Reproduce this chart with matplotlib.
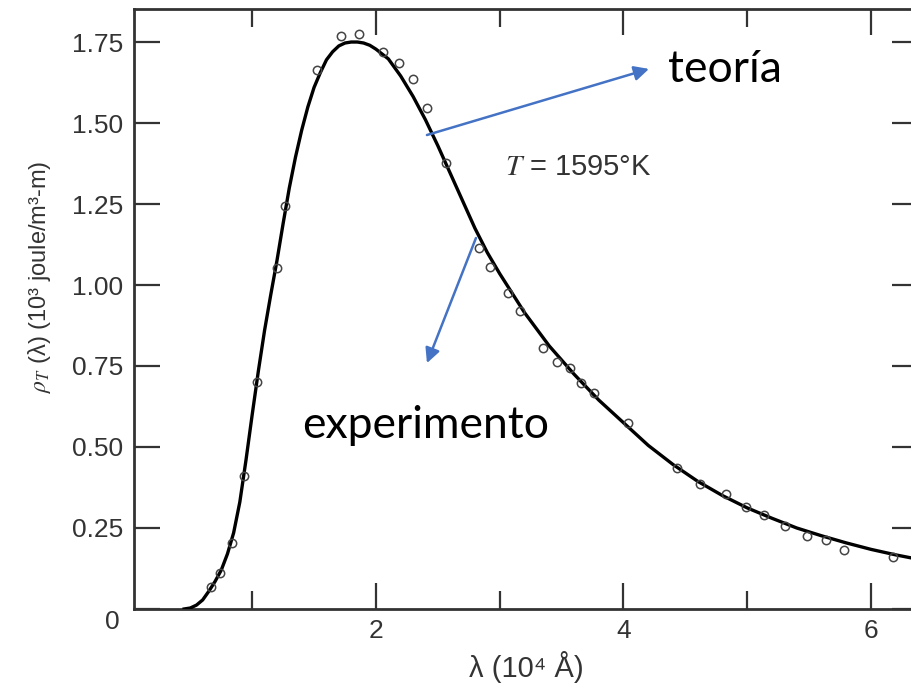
import matplotlib
matplotlib.use('Agg')
import matplotlib.pyplot as plt

# curve (lambda in 10^4 A, rho in 10^3 joule/m^3-m)
lam_curve = [0.45, 0.50, 0.55, 0.60, 0.65, 0.70, 0.75, 0.80, 0.85, 0.90,
             0.95, 1.00, 1.05, 1.10, 1.15, 1.20, 1.25, 1.30, 1.35, 1.40,
             1.45, 1.50, 1.55, 1.60, 1.65, 1.70, 1.75, 1.80, 1.85, 1.90,
             1.95, 2.00, 2.10, 2.20, 2.30, 2.40, 2.50, 2.60, 2.70, 2.80,
             2.90, 3.00, 3.20, 3.40, 3.60, 3.80, 4.00, 4.20, 4.40, 4.60,
             4.80, 5.00, 5.20, 5.40, 5.60, 5.80, 6.00, 6.20, 6.40]
rho_curve = [0.000, 0.003, 0.012, 0.028, 0.055, 0.085, 0.120, 0.170, 0.235, 0.330,
             0.460, 0.600, 0.735, 0.860, 0.970, 1.075, 1.190, 1.300, 1.395, 1.478,
             1.550, 1.610, 1.655, 1.695, 1.720, 1.738, 1.747, 1.750, 1.750, 1.747,
             1.740, 1.728, 1.698, 1.645, 1.582, 1.510, 1.430, 1.345, 1.260, 1.175,
             1.100, 1.035, 0.915, 0.812, 0.725, 0.645, 0.575, 0.505, 0.446, 0.394,
             0.350, 0.312, 0.280, 0.250, 0.226, 0.204, 0.184, 0.167, 0.152]

# experimental points
lam_exp = [0.67, 0.74, 0.84, 0.93, 1.04, 1.20, 1.265, 1.52, 1.72, 1.865,
           2.06, 2.19, 2.30, 2.41, 2.57, 2.83, 2.92, 3.07, 3.16, 3.35,
           3.46, 3.57, 3.66, 3.76, 4.04, 4.43, 4.62, 4.83, 4.99, 5.135,
           5.305, 5.48, 5.64, 5.78, 6.18]
rho_exp = [0.069, 0.110, 0.205, 0.410, 0.700, 1.052, 1.245, 1.665, 1.770, 1.775,
           1.720, 1.684, 1.635, 1.545, 1.377, 1.115, 1.055, 0.974, 0.920, 0.805,
           0.763, 0.743, 0.697, 0.666, 0.573, 0.434, 0.385, 0.354, 0.314, 0.290,
           0.255, 0.226, 0.214, 0.182, 0.161]

yticks = [0, 0.25, 0.50, 0.75, 1.00, 1.25, 1.50, 1.75]
ytick_labels = ['', '0.25', '0.50', '0.75', '1.00', '1.25', '1.50', '1.75']
xticks_major = [2, 4, 6]
xticks_minor = [1, 3, 5]

plt.rcParams['font.family'] = ['Liberation Sans', 'DejaVu Sans']
plt.rcParams['mathtext.fontset'] = 'stix'

ink = '#333333'
blue = '#4472C4'

fig = plt.figure(figsize=(9.11, 6.91), dpi=100)
ax = fig.add_axes([0.1471, 0.1187, 0.8606, 0.8683])

ax.plot(lam_curve, rho_curve, color='black', lw=2.4, zorder=3)
ax.plot(lam_exp, rho_exp, 'o', ms=6, mfc='none', mec='#444444', mew=1.1, zorder=4)

ax.set_xlim(0.045, 6.38)
ax.set_ylim(0, 1.852)
ax.set_xticks(xticks_major)
ax.set_xticks(xticks_minor, minor=True)
ax.set_yticks(yticks)
ax.set_yticklabels(ytick_labels)

ax.tick_params(which='both', direction='in', top=True, right=True,
               color=ink, width=1.6, labelcolor=ink, labelsize=19)
ax.tick_params(which='major', length=19)
ax.tick_params(which='minor', length=13)
ax.tick_params(axis='y', pad=8)
ax.tick_params(axis='x', pad=7)
for s in ax.spines.values():
    s.set_color(ink)
    s.set_linewidth(2.0)

ax.text(-0.018, -0.022, '0', transform=ax.transAxes, ha='right', va='center',
        fontsize=19, color=ink)

ax.set_xlabel('λ (10⁴ Å)', fontsize=21, color=ink, labelpad=6)
fig.text(40 / 911, 1 - 277 / 691, r'$\rho_T$ (λ) (10³ joule/m³-m)', rotation=90,
         ha='center', va='center', fontsize=17, color=ink)

ax.text(3.04, 1.364, r'$T$ = 1595°K', fontsize=21, color=ink, ha='left', va='center')

# blue arrows and labels
ax.annotate('', xy=(4.206, 1.667), xytext=(2.412, 1.463),
            arrowprops=dict(arrowstyle='-|>', color=blue, lw=1.8,
                            mutation_scale=22, shrinkA=0, shrinkB=0), zorder=5)
ax.annotate('', xy=(2.412, 0.759), xytext=(2.808, 1.145),
            arrowprops=dict(arrowstyle='-|>', color=blue, lw=1.8,
                            mutation_scale=22, shrinkA=0, shrinkB=0), zorder=5)
ax.text(4.36, 1.627, 'teoría', fontsize=32, family='Lato', color='black',
        ha='left', va='baseline')
ax.text(1.402, 0.528, 'experimento', fontsize=32, family='Lato', color='black',
        ha='left', va='baseline')

fig.savefig('out.png', dpi=100)
